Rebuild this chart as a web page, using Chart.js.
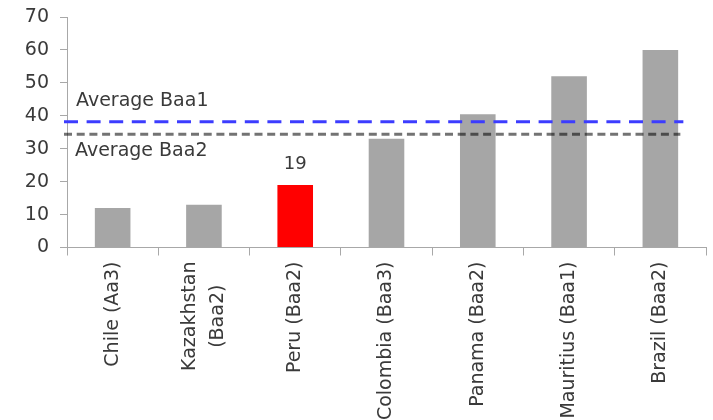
<!DOCTYPE html>
<html>
<head>
<meta charset="utf-8">
<script src="https://cdn.jsdelivr.net/npm/chart.js@4.4.1/dist/chart.umd.min.js"></script>
<style>
  html, body { margin: 0; padding: 0; background: #ffffff; }
  #wrap { width: 713px; height: 420px; position: relative; }
</style>
</head>
<body>
<div id="wrap"><canvas id="chart" width="713" height="420"></canvas></div>
<script>
// Countries with their ratings (multi-line entries wrap on the axis)
const categories = [
  'Chile (Aa3)',
  ['Kazakhstan', '(Baa2)'],
  'Peru (Baa2)',
  'Colombia (Baa3)',
  'Panama (Baa2)',
  'Mauritius (Baa1)',
  'Brazil (Baa2)'
];
const values = [12, 13, 19, 33, 40.5, 52, 60];
const highlightIndex = 2;            // Peru
const averageBaa1 = 38.2;
const averageBaa2 = 34.4;
const yTicks = [0, 10, 20, 30, 40, 50, 60, 70];

const FONT = 'DejaVu Sans';
const TEXT = '#3a3a3a';
const AXIS = '#a8a8a8';
const X_TICK_LEN = 8;
const X_TICK_PAD = 6;
const X_FONT_SIZE = 19;
const WRAP_LINE_GAP = 28;

const barColors = values.map((v, i) => i === highlightIndex ? '#ff0000' : '#a6a6a6');

// Dashed average lines, their captions, the value over the highlighted bar
// and the wrapped (two-line) category labels, centred under their ticks
const overlay = {
  id: 'overlay',
  afterDatasetsDraw(chart) {
    const { ctx, chartArea, scales } = chart;
    const x = scales.x, y = scales.y;
    const catW = (chartArea.right - chartArea.left) / categories.length;
    const lineEnd = x.getPixelForValue(categories.length - 1) + catW * 0.23;

    ctx.save();
    // Average Baa2 (dark, translucent)
    const y2 = y.getPixelForValue(averageBaa2);
    ctx.strokeStyle = 'rgba(0,0,0,0.55)';
    ctx.lineWidth = 3;
    ctx.setLineDash([8, 4.7]);
    ctx.beginPath();
    ctx.moveTo(chartArea.left - 3, y2);
    ctx.lineTo(lineEnd - 1, y2);
    ctx.stroke();

    // Average Baa1 (blue)
    const y1 = y.getPixelForValue(averageBaa1);
    ctx.strokeStyle = '#3c3cff';
    ctx.setLineDash([14, 8.6]);
    ctx.beginPath();
    ctx.moveTo(chartArea.left - 3, y1);
    ctx.lineTo(lineEnd + 2, y1);
    ctx.stroke();
    ctx.setLineDash([]);

    ctx.fillStyle = TEXT;
    ctx.font = '19px "' + FONT + '"';
    ctx.textAlign = 'left';
    ctx.textBaseline = 'alphabetic';
    ctx.fillText('Average Baa1', chartArea.left + 9, y1 - 16);
    ctx.fillText('Average Baa2', chartArea.left + 8, y2 + 22);

    // value label over the highlighted bar
    const bar = chart.getDatasetMeta(0).data[highlightIndex];
    ctx.font = '18px "' + FONT + '"';
    ctx.textAlign = 'center';
    ctx.fillText(String(values[highlightIndex]), bar.x, bar.y - 16);

    // wrapped category labels: block hangs from the axis, lines centred on each other
    ctx.font = X_FONT_SIZE + 'px "' + FONT + '"';
    ctx.textAlign = 'center';
    ctx.textBaseline = 'middle';
    categories.forEach((label, i) => {
      if (!Array.isArray(label)) return;
      const px = x.getPixelForValue(i);
      const top = x.top + X_TICK_LEN + X_TICK_PAD;
      const widest = Math.max(...label.map(l => ctx.measureText(l).width));
      ctx.save();
      ctx.translate(px, top + widest / 2);
      ctx.rotate(-Math.PI / 2);
      label.forEach((line, j) => {
        ctx.fillText(line, 0, (j - (label.length - 1) / 2) * WRAP_LINE_GAP);
      });
      ctx.restore();
    });
    ctx.restore();
  }
};

new Chart(document.getElementById('chart'), {
  type: 'bar',
  data: {
    labels: categories,
    datasets: [{
      data: values,
      backgroundColor: barColors,
      borderWidth: 0,
      barPercentage: 0.39,
      categoryPercentage: 1
    }]
  },
  options: {
    responsive: false,
    animation: false,
    devicePixelRatio: 1,
    layout: { padding: { top: 17, right: 7, left: 0, bottom: 0 } },
    plugins: {
      legend: { display: false },
      tooltip: { enabled: false }
    },
    scales: {
      x: {
        grid: {
          display: true,
          drawOnChartArea: false,
          drawTicks: true,
          tickLength: X_TICK_LEN,
          color: AXIS,
          offset: true
        },
        border: { display: true, color: AXIS, width: 1 },
        ticks: {
          autoSkip: false,
          minRotation: 90,
          maxRotation: 90,
          padding: X_TICK_PAD,
          color: TEXT,
          font: { family: FONT, size: X_FONT_SIZE },
          // wrapped labels are drawn by the overlay plugin
          callback(value, index) {
            const label = categories[index];
            return Array.isArray(label) ? '' : label;
          }
        },
        afterFit(scale) { scale.height = 172.5; }
      },
      y: {
        min: 0,
        max: 70,
        afterBuildTicks(scale) { scale.ticks = yTicks.map(v => ({ value: v })); },
        grid: {
          display: true,
          drawOnChartArea: false,
          drawTicks: true,
          tickLength: 7,
          color: AXIS
        },
        border: { display: true, color: AXIS, width: 1 },
        ticks: {
          padding: 11,
          color: TEXT,
          font: { family: FONT, size: 19 }
        },
        afterFit(scale) {
          scale.width = 67;
          scale.paddingTop = 0;
          scale.paddingBottom = 0;
        }
      }
    }
  },
  plugins: [overlay]
});
</script>
</body>
</html>
